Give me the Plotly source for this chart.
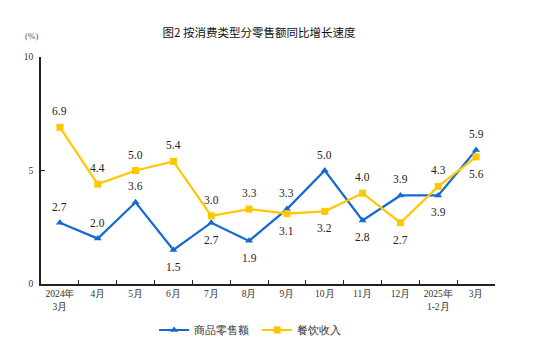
import plotly.graph_objects as go

categories = ["2024年<br>3月", "4月", "5月", "6月", "7月", "8月", "9月", "10月", "11月", "12月", "2025年<br>1-2月", "3月"]
goods = [2.7, 2.0, 3.6, 1.5, 2.7, 1.9, 3.3, 5.0, 2.8, 3.9, 3.9, 5.9]
catering = [6.9, 4.4, 5.0, 5.4, 3.0, 3.3, 3.1, 3.2, 4.0, 2.7, 4.3, 5.6]
goods_pos = ["t", "t", "t", "b", "b", "b", "t", "t", "b", "t", "b", "t"]
catering_pos = ["t", "t", "t", "t", "t", "t", "b", "b", "t", "b", "t", "b"]

BLUE = "#1569d3"
YELLOW = "#ffc700"
SERIF = "Liberation Serif"

fig = go.Figure()
fig.add_trace(go.Scatter(x=categories, y=goods, mode="lines+markers", name="商品零售额",
                         line=dict(color=BLUE, width=2.2),
                         marker=dict(symbol="triangle-up", size=7, color=BLUE)))
fig.add_trace(go.Scatter(x=categories, y=catering, mode="lines+markers", name="餐饮收入",
                         line=dict(color=YELLOW, width=2.2),
                         marker=dict(symbol="square", size=7, color=YELLOW)))

for vals, pos in ((goods, goods_pos), (catering, catering_pos)):
    for c, v, p in zip(categories, vals, pos):
        fig.add_annotation(x=c, y=v, text=f"{v:.1f}", showarrow=False,
                           yshift=16 if p == "t" else -17,
                           font=dict(family=SERIF, size=11.5, color="#222"))

fig.add_annotation(xref="paper", yref="paper", x=-0.04, y=1.125, text="(%)", showarrow=False,
                   font=dict(family=SERIF, size=9, color="#555"))

fig.update_layout(
    width=546, height=348,
    margin=dict(l=33, r=59, t=49, b=72, autoexpand=False),
    paper_bgcolor="white", plot_bgcolor="white",
    title=dict(text="图2 按消费类型分零售额同比增长速度", x=251 / 546, xanchor="center", y=1 - 25 / 348, yanchor="middle",
               font=dict(family="Noto Sans CJK SC", size=11.5, color="#111")),
    showlegend=True,
    legend=dict(orientation="h", x=0.476, xanchor="center", y=-46 / 227, yanchor="middle",
                font=dict(family=SERIF, size=10.5, color="#333"), itemwidth=30, entrywidth=58),
    xaxis=dict(type="category", showline=True, linecolor="#222", linewidth=1.5,
               ticks="inside", ticklen=4, tickcolor="#222", tickson="boundaries",
               showgrid=False, tickfont=dict(family=SERIF, size=9.5, color="#333"),
               tickangle=0, automargin=False, range=[-0.5, 11.5]),
    yaxis=dict(range=[0, 10], tickvals=[0, 5, 10], showline=True, linecolor="#222", linewidth=1.5,
               ticks="inside", ticklen=4, tickcolor="#222", showgrid=False, zeroline=False,
               automargin=False,
               tickfont=dict(family=SERIF, size=9.5, color="#333"), ticklabelstandoff=4),
)

fig.write_html("out.html")
